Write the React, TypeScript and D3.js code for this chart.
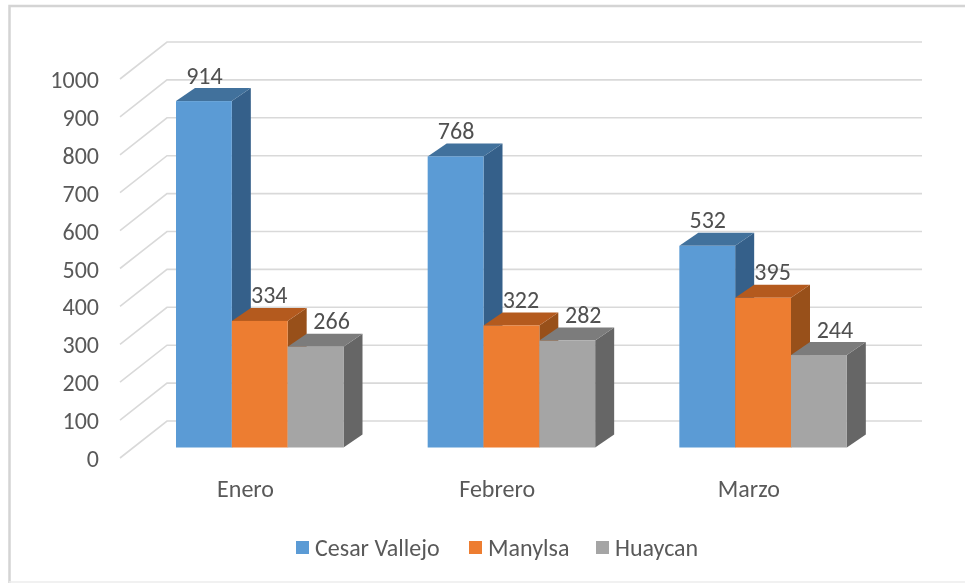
import React from "react";
import * as d3 from "d3";

const categories = ["Enero", "Febrero", "Marzo"];
const seriesNames = ["Cesar Vallejo", "Manylsa", "Huaycan"];
const cesarVallejo = [914, 768, 532];
const manylsa = [334, 322, 395];
const huaycan = [266, 282, 244];
const yTicks = [0, 100, 200, 300, 400, 500, 600, 700, 800, 900, 1000];
const seriesValues = [cesarVallejo, manylsa, huaycan];
const fronts = ["#5B9BD5", "#ED7D31", "#A5A5A5"];
const tops = ["#41719C", "#B45A1E", "#7C7C7C"];
const sides = ["#35608A", "#98501A", "#666666"];
const labelShift = [0.5, 9.5, 16];

const FONT = "Carlito, Lato, 'Open Sans', sans-serif";
const W = 965;
const H = 583;

export default function App() {
  const yFront = d3.scaleLinear().domain([0, 1000]).range([458, 79]);
  const yBar = d3.scaleLinear().domain([0, 1000]).range([447.5, 68.5]);
  const yBack = d3.scaleLinear().domain([0, 1000]).range([421, 42]);
  const xCat = d3.scaleBand().domain(categories).range([120, 875]);
  const xSer = d3.scaleBand().domain(seriesNames.map(String)).range([0, 167.5]);
  const depthX = 19;
  const depthY = 13;
  const offset = 56;

  return (
    <svg
      width={W}
      height={H}
      style={{ position: "absolute", left: 0, top: 0, background: "#fff", filter: "blur(0.45px)" }}
      fontFamily={FONT}
    >
      <path d={`M${W + 4},6 H9.5 V${H + 4}`} fill="none" stroke="#d4d4d4" strokeWidth={2.5} />
      <line x1={9} x2={W} y1={582} y2={582} stroke="#ededed" strokeWidth={1.5} />
      {yTicks.map((t) => (
        <g key={t}>
          <polyline
            points={`120,${yFront(t)} 167,${yBack(t)} 922,${yBack(t)}`}
            fill="none"
            stroke="#d9d9d9"
            strokeWidth={1.6}
          />
          <text x={99} y={yFront(t) + 9} fontSize={24} textAnchor="end" fill="#595959">
            {t}
          </text>
        </g>
      ))}
      {categories.map((c, ci) => {
        const x0 = (xCat(c) as number) + offset;
        return (
          <g key={c}>
            {seriesValues.map((vals, si) => {
              const name = seriesNames[si];
              const x = x0 + (xSer(name) as number);
              const w = xSer.bandwidth();
              const yt = yBar(vals[ci]);
              const yb = yBar(0);
              return (
                <g key={name}>
                  <polygon
                    points={`${x + w},${yt} ${x + w + depthX},${yt - depthY} ${x + w + depthX},${yb - depthY} ${x + w},${yb}`}
                    fill={sides[si]}
                  />
                  <polygon
                    points={`${x},${yt} ${x + depthX},${yt - depthY} ${x + w + depthX},${yt - depthY} ${x + w},${yt}`}
                    fill={tops[si]}
                  />
                  <rect x={x} y={yt} width={w} height={yb - yt} fill={fronts[si]} />
                </g>
              );
            })}
            {seriesValues.map((vals, si) => {
              const name = seriesNames[si];
              const x = x0 + (xSer(name) as number);
              const w = xSer.bandwidth();
              return (
                <text
                  key={name}
                  x={x + w / 2 + labelShift[si]}
                  y={yBar(vals[ci]) - 17.5}
                  fontSize={24}
                  textAnchor="middle"
                  fill="#505050"
                >
                  {vals[ci]}
                </text>
              );
            })}
            <text x={x0 + 69.5} y={497} fontSize={24} textAnchor="middle" fill="#595959">
              {c}
            </text>
          </g>
        );
      })}
      {seriesNames.map((n, i) => {
        const lx = [296, 469, 596][i];
        return (
          <g key={n}>
            <rect x={lx} y={541} width={13} height={13} fill={fronts[i]} />
            <text x={lx + 19} y={555.5} fontSize={24} fill="#595959">
              {n}
            </text>
          </g>
        );
      })}
    </svg>
  );
}
